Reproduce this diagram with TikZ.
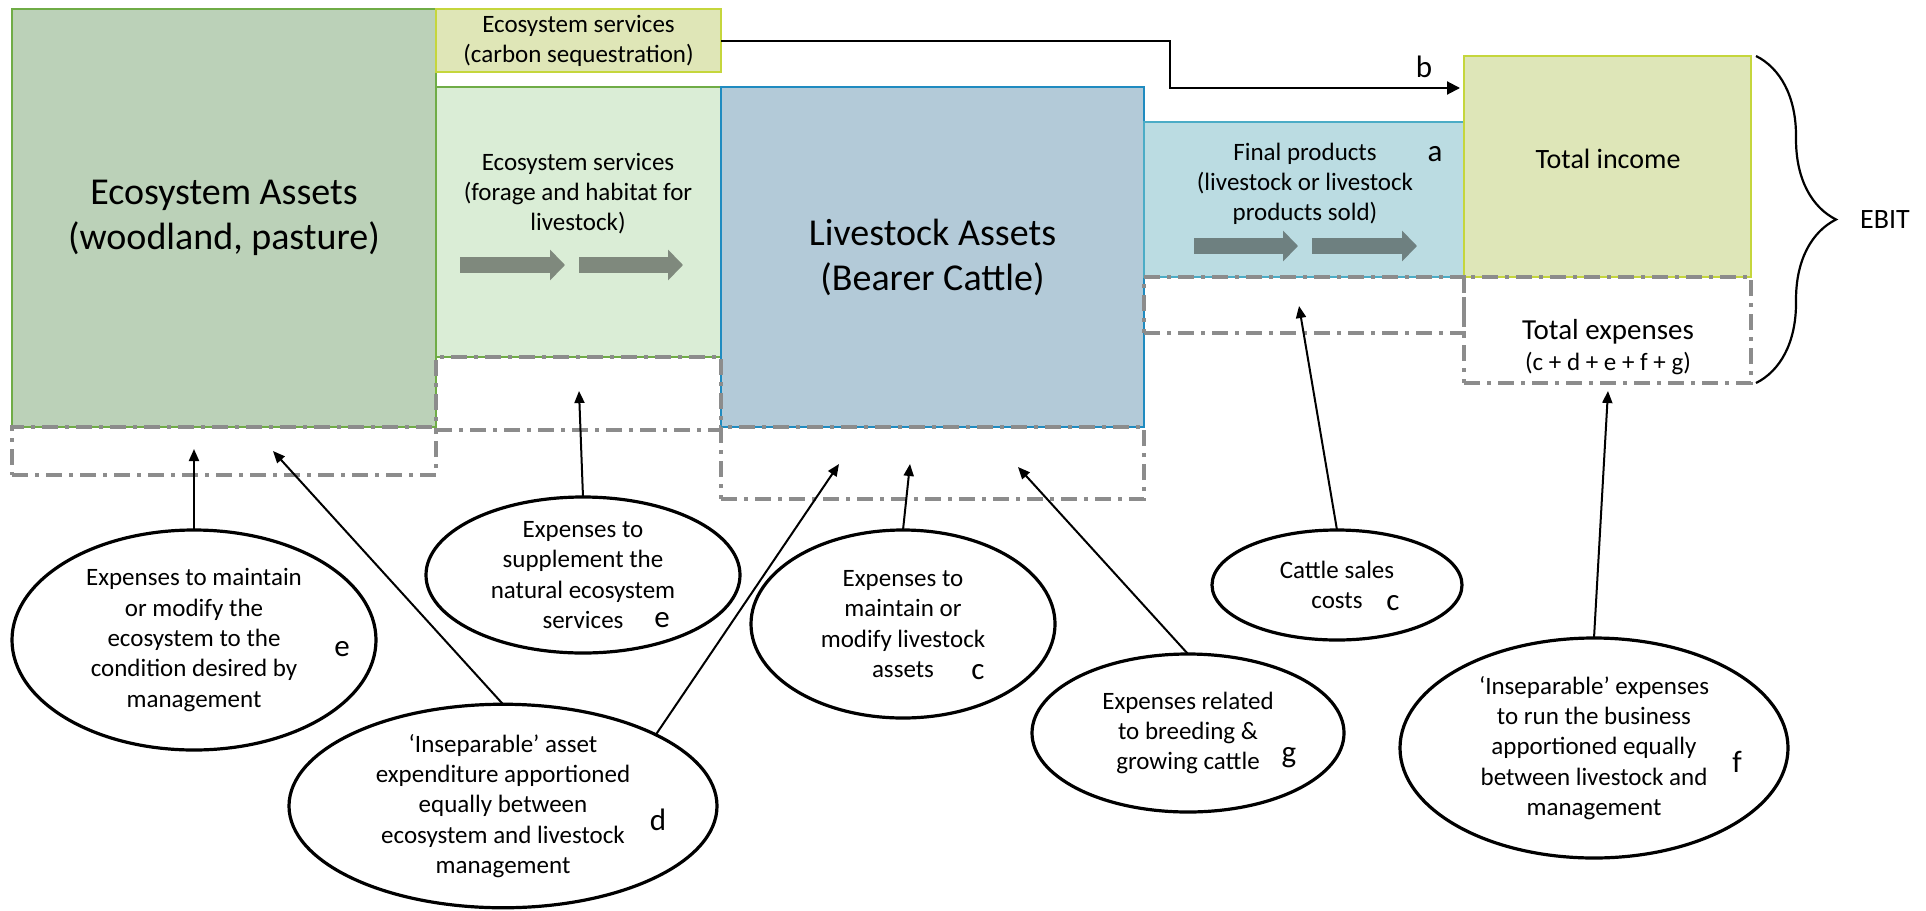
\documentclass[tikz,border=0pt]{standalone}
\usepackage{fontspec}
\setmainfont{Carlito}
\usetikzlibrary{positioning,shapes.geometric,arrows.meta,decorations.pathreplacing}

\definecolor{ecofill}{HTML}{BBD1B8}
\definecolor{ecoline}{HTML}{6FAC46}
\definecolor{carbfill}{HTML}{DFE6B7}
\definecolor{carbline}{HTML}{C5D63C}
\definecolor{forfill}{HTML}{DAEDD6}
\definecolor{livfill}{HTML}{B3CAD8}
\definecolor{livline}{HTML}{1F8BC0}
\definecolor{finfill}{HTML}{BBDCE2}
\definecolor{finline}{HTML}{4BACC6}
\definecolor{incfill}{HTML}{DEE6B8}
\definecolor{expgrey}{HTML}{8C8C8C}
\definecolor{forarrow}{HTML}{7F897D}
\definecolor{finarrow}{HTML}{6E8080}

\begin{document}
\begin{tikzpicture}[x=0.5pt,y=-0.5pt,
        box/.style={rectangle,draw,line width=1pt,outer sep=0pt,inner sep=0pt,anchor=north west,align=center},
        big text/.style={font=\fontsize{19}{22.5}\selectfont},
        small text/.style={font=\fontsize{12.5}{15}\selectfont,align=center},
        exp box/.style={rectangle,draw=expgrey,line width=2pt,outer sep=0pt,inner sep=0pt,
            dash pattern=on 8pt off 3.5pt on 2pt off 3.5pt},
        cost node/.style={ellipse,draw,line width=1.6pt,outer sep=0pt,inner sep=0pt,align=center,
            font=\fontsize{12.5}{15.2}\selectfont},
        letter node/.style={font=\fontsize{15.5}{18}\selectfont,inner sep=0pt},
        flow arrow/.style={line width=8pt,-{Triangle[length=7.5pt,width=15pt]}},
        cost arrow/.style={line width=1pt,-{Triangle[length=6pt,width=5pt]}}]

    \useasboundingbox (0,0) rectangle (1926,910);

    \node[box,fill=ecofill,draw=ecoline,minimum width=212pt,minimum height=209pt,big text] (eco) at (12,9)
        {Ecosystem Assets\\(woodland, pasture)};
    \node[box,fill=carbfill,draw=carbline,minimum width=142.5pt,minimum height=31.5pt,small text] (carbon) at (436,9)
        {Ecosystem services\\(carbon sequestration)};
    \node[box,fill=forfill,draw=ecoline,minimum width=142.5pt,minimum height=135pt] (forage) at (436,87) {};
    \node[box,fill=livfill,draw=livline,minimum width=211.5pt,minimum height=170pt,big text] (stock) at (721,87)
        {Livestock Assets\\(Bearer Cattle)};
    \node[box,fill=finfill,draw=finline,minimum width=160pt,minimum height=77.5pt] (final) at (1144,122) {};
    \node[box,fill=incfill,draw=carbline,minimum width=143.5pt,minimum height=110.5pt] (income) at (1464,56) {};

    \node[font=\fontsize{14}{17}\selectfont] (incometxt) at (1608,159) {Total income};
    \node[small text] (foragetxt) at (578,194) {Ecosystem services\\(forage and habitat for\\livestock)};
    \node[small text] (finaltxt) at (1305,184) {Final products\\(livestock or livestock\\products sold)};
    \node[letter node] (a) at (1435,154) {a};

    \draw[flow arrow,draw=forarrow] (460,265) -- (565,265);
    \draw[flow arrow,draw=forarrow] (579,265) -- (683,265);
    \draw[flow arrow,draw=finarrow] (1194,246) -- (1298,246);
    \draw[flow arrow,draw=finarrow] (1312,246) -- (1417,246);

    \node[exp box,minimum width=212pt,minimum height=24pt] (ecoexp) [below=0pt of eco] {};
    \node[exp box,minimum width=142.5pt,minimum height=36.5pt] (forageexp) [below=0pt of forage] {};
    \node[exp box,minimum width=211.5pt,minimum height=36pt] (stockexp) [below=0pt of stock] {};
    \node[exp box,minimum width=160pt,minimum height=28pt] (finalexp) [below=0pt of final] {};
    \node[exp box,minimum width=143.5pt,minimum height=53pt] (totexp) [below=0pt of income] {};
    \node[font=\fontsize{14.5}{15.5}\selectfont,align=center] (totexptxt) at (1608,347)
        {Total expenses\\{\fontsize{12.5}{15}\selectfont (c + d + e + f + g)}};

    \coordinate (bend) at (1170,88);
    \draw[line width=1pt,-{Triangle[length=6.5pt,width=6.5pt]},shorten >=2pt]
        (carbon.east) -| (bend) -- (bend -| income.west);
    \node[letter node] (b) at (1424,67) {b};

    \draw[decorate,decoration={brace,amplitude=40pt},line width=1.1pt]
        ([xshift=2.5pt]income.north east) -- ([xshift=2.5pt]totexp.south east);
    \node[font=\fontsize{14}{17}\selectfont] (ebit) at (1885,220) {EBIT};

    \node[cost node,minimum width=182pt,minimum height=110pt] (e1) at (194,640)
        {Expenses to maintain\\or modify the\\ecosystem to the\\condition desired by\\management};
    \node[cost node,minimum width=214pt,minimum height=101pt] (e2) at (503,806)
        {‘Inseparable’ asset\\expenditure apportioned\\equally between\\ecosystem and livestock\\management};
    \node[cost node,minimum width=157pt,minimum height=78pt] (e3) at (583,575)
        {Expenses to\\supplement the\\natural ecosystem\\services};
    \node[cost node,minimum width=152pt,minimum height=94pt] (e4) at (903,624)
        {Expenses to\\maintain or\\modify livestock\\assets};
    \node[cost node,minimum width=156pt,minimum height=79pt] (e5) at (1188,733)
        {Expenses related\\to breeding \&\\growing cattle};
    \node[cost node,minimum width=125pt,minimum height=55pt] (e6) at (1337,585)
        {Cattle sales\\costs};
    \node[cost node,minimum width=194pt,minimum height=110pt] (e7) at (1594,748)
        {‘Inseparable’ expenses\\to run the business\\apportioned equally\\between livestock and\\management};

    \node[letter node] (e1tag) at (342,649) {e};
    \node[letter node] (e2tag) at (658,820) {d};
    \node[letter node] (e3tag) at (662,620) {e};
    \node[letter node] (e4tag) at (978,672) {c};
    \node[letter node] (e5tag) at (1289,758) {g};
    \node[letter node] (e6tag) at (1393,603) {c};
    \node[letter node] (e7tag) at (1737,762) {f};

    \coordinate (t1) at (194,449);
    \coordinate (t2) at (273,451);
    \coordinate (t3) at (579,391);
    \coordinate (t4) at (839,464);
    \coordinate (t5) at (910,464);
    \coordinate (t6) at (1018,467);
    \coordinate (t7) at (1299,306);
    \coordinate (t8) at (1608,391);

    \path[cost arrow]
    (e1.north) edge (t1)
    (e2.north) edge (t2)
    (e3.north) edge (t3)
    (e2.25) edge (t4)
    (e4.north) edge (t5)
    (e5.north) edge (t6)
    (e6.north) edge (t7)
    (e7.north) edge (t8);
\end{tikzpicture}
\end{document}
